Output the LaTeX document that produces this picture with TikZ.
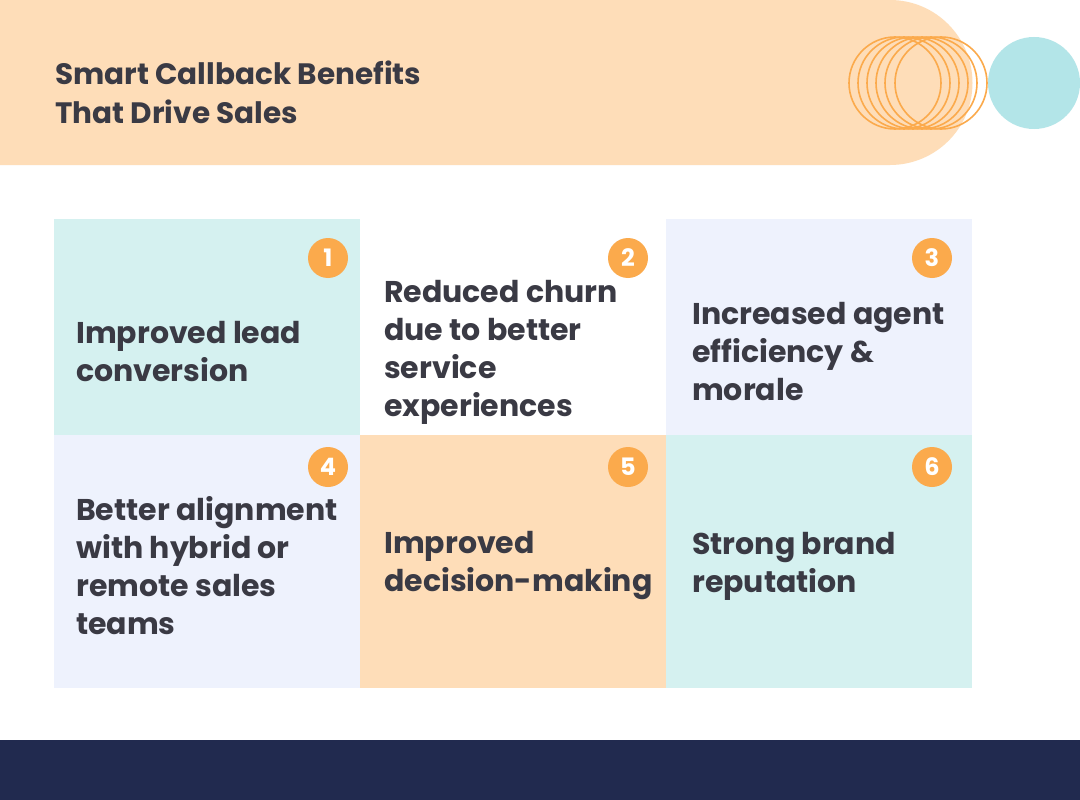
\documentclass[tikz,border=0pt]{standalone}
\usepackage{fontspec}
\setmainfont{Poppins}
\definecolor{peach}{HTML}{FEDDB8}
\definecolor{tealc}{HTML}{D5F1F0}
\definecolor{lav}{HTML}{EEF2FD}
\definecolor{orng}{HTML}{FBAA4C}
\definecolor{tealdot}{HTML}{B3E5E8}
\definecolor{navy}{HTML}{212A4F}
\definecolor{txt}{HTML}{3A3A44}
\tikzset{
 cell/.style={anchor=west,align=left,text=txt,font=\fontsize{30}{38}\selectfont\bfseries,inner sep=0pt},
 badge/.style={circle,fill=orng,minimum size=40pt,inner sep=0pt,text=white,font=\fontsize{24}{24}\selectfont\bfseries},
}
\begin{document}
\begin{tikzpicture}[x=1pt,y=-1pt]
\useasboundingbox (0,0) rectangle (1080,800);
\fill[white] (0,0) rectangle (1080,800);
\fill[peach] (0,0) -- (890,0) to[out=0,in=90] (972.5,83) to[out=-90,in=0] (890,165) -- (0,165) -- cycle;
\foreach \c in {895,904,913,922,931,941}{\draw[orng,line width=1.6pt] (\c,83) ellipse[x radius=46,y radius=46];}
\fill[tealdot] (1034,83) circle[radius=46];
\node[anchor=west,align=left,text=txt,font=\fontsize{29.5}{39}\selectfont\bfseries,inner sep=0pt] (title) at (55,92) {Smart Callback Benefits\\That Drive Sales};
\fill[tealc] (54,219) rectangle (360,435);
\fill[white] (360,219) rectangle (666,435);
\fill[lav] (666,219) rectangle (972,435);
\fill[lav] (54,435) rectangle (360,688);
\fill[peach] (360,435) rectangle (666,688);
\fill[tealc] (666,435) rectangle (972,688);
\node[cell] (t1) at (76,352) {Improved lead\\conversion};
\node[cell] (t2) at (384,352) {Reduced churn\\due to better\\service\\experiences};
\node[cell] (t3) at (692,352) {Increased agent\\efficiency \&\\morale};
\node[cell] (t4) at (76,566) {Better alignment\\with hybrid or\\remote sales\\teams};
\node[cell] (t5) at (384,566) {Improved\\decision-making};
\node[cell] (t6) at (692,566) {Strong brand\\reputation};
\node[badge] (b1) at (328,258) {1};
\node[badge] (b2) at (628,258) {2};
\node[badge] (b3) at (932,258) {3};
\node[badge] (b4) at (328,467) {4};
\node[badge] (b5) at (628,467) {5};
\node[badge] (b6) at (932,467) {6};
\fill[navy] (0,740) rectangle (1080,800);
\end{tikzpicture}
\end{document}
